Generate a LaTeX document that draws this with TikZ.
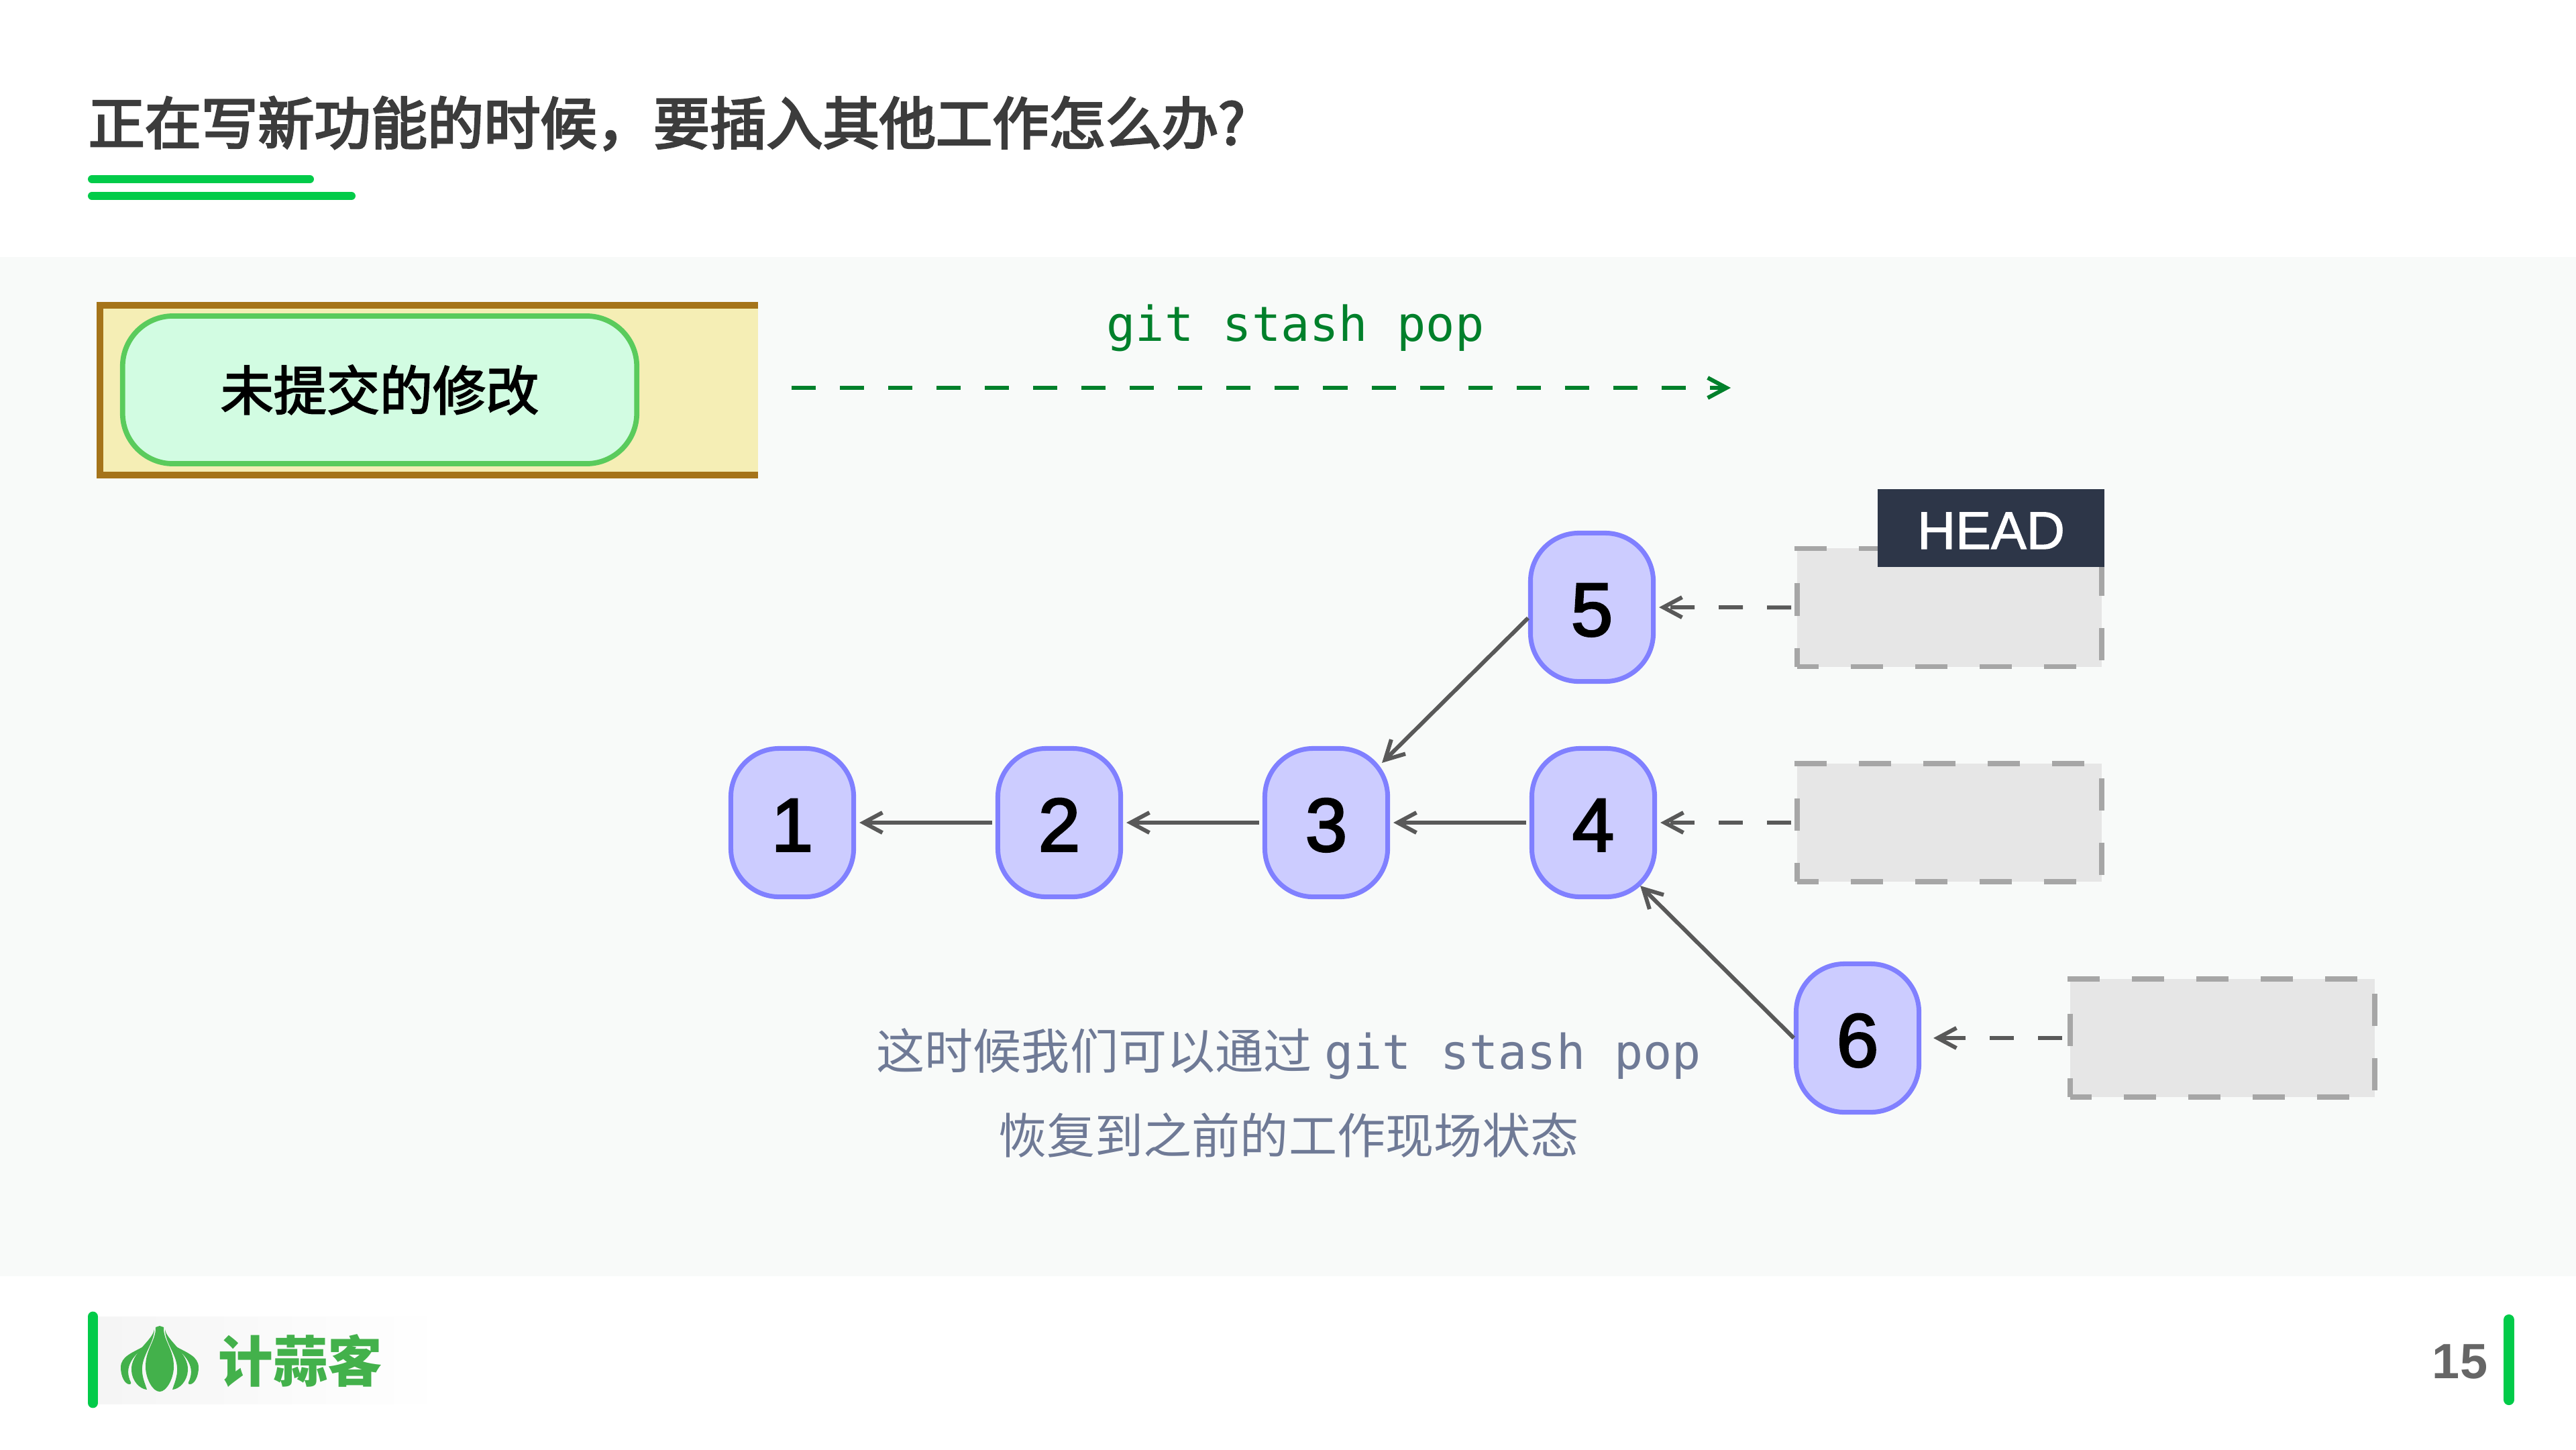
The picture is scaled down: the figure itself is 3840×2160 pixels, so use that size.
\documentclass[tikz,border=0pt]{standalone}
\usepackage{fontspec}
\usepackage{tikz}
\usetikzlibrary{arrows.meta,calc}
\setmainfont{Noto Sans CJK SC}
\setmonofont{DejaVu Sans Mono}
\newfontfamily\latinfont{Liberation Sans}
\newfontfamily\digitfont[FakeBold=2.5]{Liberation Sans}
\newfontfamily\headfont[FakeBold=1.5]{Liberation Sans}
\newfontfamily\titlefont[FakeBold=3.5]{Noto Sans CJK SC}
\newfontfamily\boxfont[FakeBold=2.5]{Noto Sans CJK SC}
\definecolor{barGreen}{HTML}{02CB49}
\definecolor{panelGray}{HTML}{F8FAF9}
\definecolor{titleGray}{HTML}{3C3C3C}
\definecolor{linkGray}{HTML}{595959}
\definecolor{popGreen}{HTML}{00802B}
\definecolor{noteBlue}{HTML}{6F7A96}
\definecolor{logoGreen}{HTML}{43B14B}
\definecolor{headDark}{HTML}{2D3648}
\definecolor{stashFill}{HTML}{F5EEB5}
\definecolor{stashEdge}{HTML}{A5741A}
\definecolor{changeFill}{HTML}{D2FCE2}
\definecolor{changeEdge}{HTML}{5ACB5C}
\definecolor{commitFill}{HTML}{CCCCFF}
\definecolor{commitEdge}{HTML}{8080FF}
\definecolor{treeFill}{HTML}{E6E6E6}
\definecolor{treeEdge}{HTML}{A6A6A6}
\tikzset{
	x=0.01cm, y=-0.01cm,
	commit/.style={draw=commitEdge, fill=commitFill, line width=2pt, rounded corners=0.72cm, minimum width=1.83cm, minimum height=2.21cm, inner sep=0pt, text height=0.85cm, text depth=0pt, text=black, font=\digitfont\fontsize{32}{32}\selectfont},
	tree/.style={draw=treeEdge, fill=treeFill, line width=2.1pt, dash pattern=on 0.48cm off 0.48cm, dash phase=0.16cm, minimum width=4.54cm, minimum height=1.76cm, inner sep=0pt},
	link/.style={draw=linkGray, line width=1.7pt, shorten <=0.05cm, shorten >=0.05cm, -{Straight Barb[length=0.28cm,width=0.3cm]}},
	reflink/.style={link, dash pattern=on 0.36cm off 0.36cm},
	note/.style={text=noteBlue, font=\fontsize{20.5}{20.5}\selectfont, inner sep=0pt},
	bar/.style={draw=barGreen, line cap=round},
	lobe/.style={fill=logoGreen}
}
\begin{document}
\begin{tikzpicture}
	\useasboundingbox (0,0) rectangle (3840,2160);
	\fill[white] (0,0) rectangle (3840,2160);
	\fill[panelGray] (0,383) rectangle (3840,1902);
	\node[anchor=west, inner sep=0pt, text=titleGray, font=\titlefont\fontsize{23.95}{23.95}\selectfont] (title) at (131,184) {正在写新功能的时候，要插入其他工作怎么办?};
	\draw[bar, line width=3.4pt] (137,267) -- (462,267);
	\draw[bar, line width=3.4pt] (137,292) -- (524,292);

	\fill[stashFill] (149,455) rectangle (1130,708);
	\draw[line width=2.85pt, color=stashEdge] (1130,455) -- (149,455) -- (149,708) -- (1130,708);
	\node[draw=changeEdge, fill=changeFill, line width=2.2pt, rounded corners=0.75cm, minimum width=7.66cm, minimum height=2.2cm, inner sep=0pt, font=\boxfont\fontsize{22.5}{22.5}\selectfont] (change) at (566,581) {未提交的修改};

	\coordinate (popstart) at (1180,578);
	\coordinate (popend) at (2580,578);
	\draw[link, draw=popGreen, shorten <=0pt, shorten >=0pt, dash pattern=on 0.36cm off 0.36cm] (popstart) -- (popend);
	\node[text=popGreen, inner sep=0pt, font=\ttfamily\fontsize{20.45}{20.45}\selectfont] (popcmd) at (1931,489) {git stash pop};

	\node[commit] (n1) at (1181,1226) {1};
	\node[commit] (n2) at (1579,1226) {2};
	\node[commit] (n3) at (1977,1226) {3};
	\node[commit] (n4) at (2375,1226) {4};
	\node[commit] (n5) at (2373,905) {5};
	\node[commit] (n6) at (2769,1547) {6};

	\node[tree] (t5) at (2906,905.5) {};
	\node[tree] (t4) at (2906,1226) {};
	\node[tree] (t6) at (3313,1547) {};
	\node[fill=headDark, minimum width=3.38cm, minimum height=1.15cm, inner sep=0pt, text height=0.62cm, text depth=0pt, text=white, font=\headfont\fontsize{22.5}{22.5}\selectfont] (head) at (2968,787) {HEAD};

	\draw[link] (n2) -- (n1);
	\draw[link] (n3) -- (n2);
	\draw[link] (n4) -- (n3);
	\draw[link, shorten <=0pt, shorten >=0pt] ([yshift=-0.16cm]n5.west) -- ([xshift=-0.12cm,yshift=-0.25cm]n3.north east);
	\draw[link, shorten <=0pt, shorten >=0pt] (n6.west) -- ([xshift=-0.25cm,yshift=0.2cm]n4.south east);
	\draw[reflink] (t5) -- (n5);
	\draw[reflink] (t4) -- (n4);
	\draw[reflink, shorten <=0.08cm, shorten >=0.18cm] (t6) -- (n6);

	\node[note, anchor=west] (note1) at (1306,1571) {这时候我们可以通过\hspace{0.19cm}{\ttfamily\fontsize{20.4}{20.4}\selectfont git stash pop}};
	\node[note] (note2) at (1921,1692) {恢复到之前的工作现场状态};

	\shade[left color=black!4, right color=white] (146,1962) rectangle (662,2092);
	\draw[bar, line width=4.2pt] (138.5,1962) -- (138.5,2091);
	\begin{scope}[shift={(238,2026)}]
		\fill[lobe] (0,-50) -- (-6,-48) .. controls (-5,-28) and (-22,-15) .. (-21,13) .. controls (-20,30) and (-10,48) .. (0,48) .. controls (10,48) and (20,30) .. (21,13) .. controls (22,-15) and (5,-28) .. (6,-48) -- cycle;
		\foreach \s in {1,-1} {
			\begin{scope}[xscale=\s]
				\fill[lobe] (-8,-45) .. controls (-10,-28) and (-44,-10) .. (-42,17) .. controls (-41,32) and (-30,44) .. (-19,45) .. controls (-22,35) and (-27,25) .. (-26,12) .. controls (-25,-8) and (-8,-25) .. (-8,-45);
				\fill[lobe] (-23,-20) .. controls (-40,-10) and (-58,-5) .. (-58,12) .. controls (-58,25) and (-52,37) .. (-45,37) .. controls (-43,37) and (-42,36) .. (-43,34) .. controls (-52,15) and (-45,0) .. (-24,-18) -- cycle;
			\end{scope}
		}
	\end{scope}
	\node[text=logoGreen, inner sep=0pt, font=\bfseries\fontsize{23.2}{23.2}\selectfont] (logo) at (448,2028) {计蒜客};

	\node[text=black!60, inner sep=0pt, font=\latinfont\bfseries\fontsize{21}{21}\selectfont] (page) at (3667,2029) {15};
	\draw[bar, line width=4.6pt] (3740,1967) -- (3740,2086);
\end{tikzpicture}
\end{document}
